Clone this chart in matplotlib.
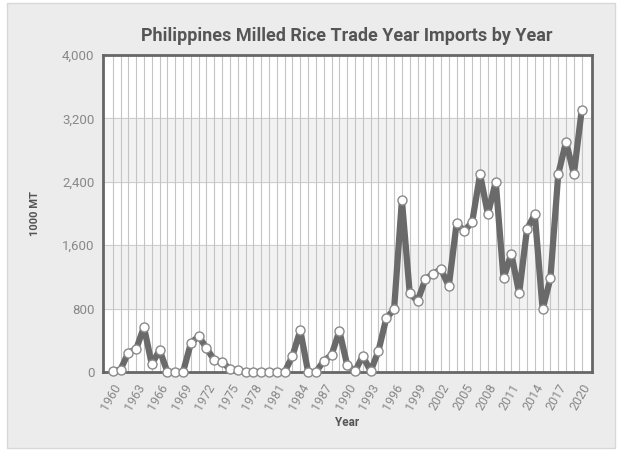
import matplotlib
matplotlib.use("Agg")
import matplotlib.pyplot as plt
from matplotlib.patches import Rectangle

years = list(range(1960, 2021))
imports = [10, 30, 244, 287, 568, 97, 278, 0, 0, 0,
           362, 454, 299, 151, 130, 34, 20, 0, 0, 0,
           0, 0, 0, 202, 526, 0, 0, 139, 215, 517,
           88, 10, 202, 10, 265, 678, 791, 2170, 993, 896,
           1170, 1240, 1296, 1085, 1877, 1779, 1897, 2495, 1990, 2402,
           1182, 1493, 993, 1801, 1990, 791, 1182, 2495, 2906, 2495,
           3306]
tick_years = list(range(1960, 2021, 3))
y_ticks = [0, 800, 1600, 2400, 3200, 4000]

plt.rcParams['font.family'] = ['Roboto', 'DejaVu Sans']

fig = plt.figure(figsize=(6.27, 4.55), dpi=100)
fig.patch.set_facecolor('white')
panel = Rectangle((7/627, 1 - 448/455), 608/627, 445/455, transform=fig.transFigure,
                  facecolor='#ececec', edgecolor='#d8d8d8', linewidth=1, zorder=-10)
fig.patches.append(panel)

ax = fig.add_axes([103/627, 1 - 372/455, 489/627, 317/455])
ax.set_zorder(1)
ax.set_facecolor('white')
ax.set_xlim(1958.76, 2021.32)
ax.set_ylim(0, 4000)

for i in range(len(y_ticks) - 1):
    if i % 2 == 1:
        ax.axhspan(y_ticks[i], y_ticks[i + 1], color='#f2f2f2', zorder=0)
for yv in y_ticks[1:-1]:
    ax.axhline(yv, color='#cfcfcf', lw=0.8, zorder=1)
for yr in years:
    ax.axvline(yr, color='#c4c4c4', lw=0.8, zorder=1)

ax.plot(years, imports, color='#6a6a6a', lw=4.5, solid_joinstyle='round', zorder=3)
ax.plot(years, imports, linestyle='none', marker='o', ms=6.5, mfc='white',
        mec='#8a8a8a', mew=1.0, zorder=4, clip_on=False)

ax.set_yticks(y_ticks)
ax.set_yticklabels([f"{v:,}" for v in y_ticks])
ax.set_xticks(tick_years)
ax.set_xticklabels([str(y) for y in tick_years], rotation=60, ha='right',
                   rotation_mode='anchor')
ax.tick_params(axis='both', length=0, colors='#888888', labelsize=9.5, pad=6)
ax.tick_params(axis='x', labelsize=9, pad=7)

for s in ax.spines.values():
    s.set_color('#666666')
    s.set_linewidth(2)
    s.set_zorder(2.5)

ax.set_ylabel('1000 MT', fontsize=8, fontweight='bold', color='#555555', labelpad=16)
ax.set_xlabel('Year', fontsize=8.5, fontweight='bold', color='#555555', labelpad=0)
ax.xaxis.set_label_coords(0.5, -0.14)

fig.text(347/627, 1 - 36/455, 'Philippines Milled Rice Trade Year Imports by Year',
         ha='center', va='center', fontsize=13, fontweight='bold', color='#555555')

fig.savefig('out.png', dpi=100, facecolor=fig.get_facecolor())
